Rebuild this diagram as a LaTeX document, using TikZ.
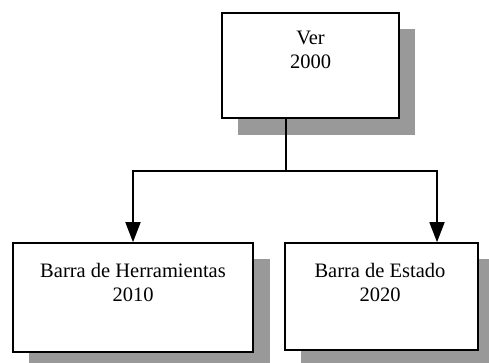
\documentclass[tikz,border=0pt]{standalone}
\usepackage{fontspec}
\setmainfont{Liberation Serif}
\usetikzlibrary{arrows.meta,calc}
\begin{document}
\begin{tikzpicture}[x=1pt,y=-1pt,
  boxstyle/.style={draw=black,line width=1.6pt,fill=white,rectangle,inner sep=0pt},
  shadowstyle/.style={fill=black!40,draw=none},
  lbl/.style={align=center,font=\fontsize{20.5pt}{24pt}\selectfont,inner sep=0pt},
  conn/.style={line width=1.6pt},
  arr/.style={conn,-{Triangle[width=15pt,length=20pt]}}]
\useasboundingbox (0,0) rectangle (489,362);
% shadows
\fill[shadowstyle] (238,29) rectangle (415,135);
\fill[shadowstyle] (29,259) rectangle (270,368);
\fill[shadowstyle] (301,259) rectangle (495,368);
% boxes
\node[boxstyle,minimum width=177pt,minimum height=105pt] (top) at (310.5,65.5) {};
\node[boxstyle,minimum width=240pt,minimum height=109pt] (left) at (133,297.5) {};
\node[boxstyle,minimum width=193pt,minimum height=107pt] (right) at (381.5,296.5) {};
% labels
\node[lbl] (toplbl) at (310.5,50) {Ver\\2000};
\node[lbl] (leftlbl) at (133,282) {Barra de Herramientas\\2010};
\node[lbl] (rightlbl) at (380,282) {Barra de Estado\\2020};
% connectors
\coordinate (j) at (286,171);
\coordinate (rb) at (437,0);
\draw[conn] (top.south -| j) -- (j);
\draw[arr] (j) -| (left.north);
\draw[arr] (j) -| (right.north -| rb);
\end{tikzpicture}
\end{document}
